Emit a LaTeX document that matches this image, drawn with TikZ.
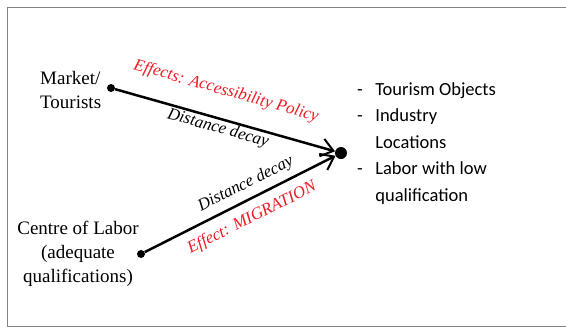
\documentclass[tikz,border=0pt]{standalone}
\usepackage{fontspec}
\setmainfont{Liberation Serif}
\newfontfamily\listfont{Carlito}
\usepackage{tikz}
\usetikzlibrary{arrows.meta,positioning}
\definecolor{effectcolor}{RGB}{237, 28, 36}
\definecolor{framecolor}{RGB}{130, 130, 130}

\begin{document}
\begin{tikzpicture}[x=1pt, y=-1pt,
    dot/.style={circle, fill=black, inner sep=0pt, minimum size=8pt},
    bigdot/.style={circle, fill=black, inner sep=0pt, minimum size=12pt},
    place/.style={inner sep=0pt, font=\fontsize{19}{24}\selectfont},
    flow/.style={line width=2.5pt, -{Straight Barb[length=12pt,width=18pt,line width=2pt]}},
    decay/.style={sloped, font=\fontsize{17}{20}\selectfont\itshape},
    effect/.style={decay, text=effectcolor}
]
    \useasboundingbox (0,0) rectangle (566,327);
    \draw[framecolor, line width=1pt] (566,7) -- (7,7) -- (7,326) -- (566,326);

    \node[dot] (mkt) at (111,88) {};
    \node[dot] (lab) at (141,254) {};
    \node[bigdot] (dest) at (341,153) {};

    \node[place, anchor=west, align=left] (market) at (40,90) {Market/\\Tourists};
    \node[place, align=center] (labor) at (78,254) {Centre of Labor\\(adequate\\qualifications)};
    \node[inner sep=0pt, anchor=base west, font=\listfont\fontsize{18.5}{26.5}\selectfont] (objects) at (357,95) {%
        \begin{tabular}[t]{@{}l@{\hspace{12.5pt}}l@{}}
        - & Tourism Objects\\
        - & Industry\\
          & Locations\\
        - & Labor with low\\
          & qualification
        \end{tabular}};

    \draw[flow] (mkt) -- node[effect, pos=0.47, yshift=28pt] {Effects: Accessibility Policy}
        node[decay, pos=0.48, yshift=-10pt] {Distance decay} (dest);
    \draw[flow] (lab) -- node[decay, pos=0.565, yshift=15pt] {Distance decay}
        node[effect, pos=0.52, yshift=-18pt] {Effect: MIGRATION} (dest);
\end{tikzpicture}
\end{document}
